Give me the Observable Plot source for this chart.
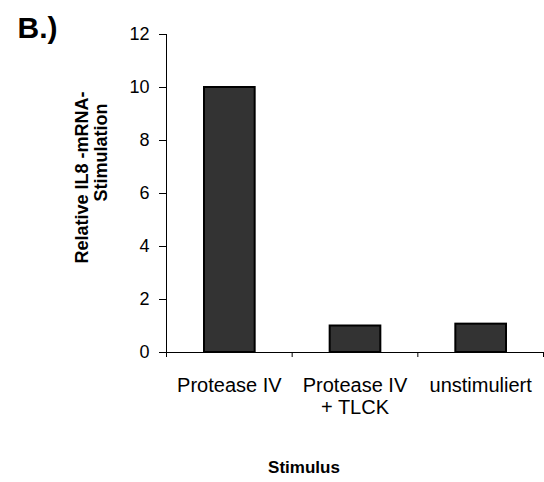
<!DOCTYPE html>
<html><head><meta charset="utf-8">
<script src="https://cdn.jsdelivr.net/npm/d3@7"></script>
<script src="https://cdn.jsdelivr.net/npm/@observablehq/plot@0.6"></script>
<style>body{margin:0;background:#fff} svg{display:block}</style>
</head><body><div id="chart"></div>
<script>
const categories = ["Protease IV", "Protease IV\n+ TLCK", "unstimuliert"];
const values = [10, 1.0, 1.07];
const yTicks = [0, 2, 4, 6, 8, 10, 12];
const panelLabel = "B.)";
const yLabelLine1 = "Relative IL8 -mRNA-";
const yLabelLine2 = "Stimulation";
const xLabel = "Stimulus";

const data = categories.map((c, i) => ({category: c, index: i, value: values[i]}));

const chart = Plot.plot({
  width: 544, height: 482,
  marginLeft: 166, marginRight: 1, marginTop: 34, marginBottom: 130,
  style: {fontFamily: "'Liberation Sans', Arial, sans-serif", fontSize: "18px", color: "black", background: "white", overflow: "visible"},
  x: {type: "linear", domain: [0, categories.length]},
  y: {domain: [0, 12]},
  marks: [
    Plot.rectY(data, {x1: "index", x2: d => d.index + 1, y: "value", insetLeft: 38, insetRight: 37, fill: "#333333", stroke: "black", strokeWidth: 2}),
    Plot.axisY({ticks: yTicks, tickSize: 7, tickPadding: 10, label: null, fontSize: 18}),
    Plot.axisX({ticks: d3.range(categories.length + 1), tickSize: 5, tickFormat: () => "", label: null}),
    Plot.axisX({ticks: data.map(d => d.index + 0.5), tickSize: 0, tickPadding: 24, tickFormat: v => categories[Math.round(v - 0.5)], label: null, lineHeight: 1.1, fontSize: 20}),
    Plot.ruleX([0], {y1: 0, y2: 12, stroke: "black"}),
    Plot.ruleY([0], {x1: 0, x2: categories.length, stroke: "black"}),
    Plot.text([panelLabel], {frameAnchor: "top-left", textAnchor: "start", lineAnchor: "top", dx: -149, dy: -18, fontSize: 30, fontWeight: "bold"}),
    Plot.text([yLabelLine1], {frameAnchor: "left", rotate: -90, textAnchor: "middle", lineAnchor: "middle", dx: -84, dy: -16, fontSize: 18, fontWeight: "bold"}),
    Plot.text([yLabelLine2], {frameAnchor: "left", rotate: -90, textAnchor: "middle", lineAnchor: "middle", dx: -65, dy: -41, fontSize: 18, fontWeight: "bold"}),
    Plot.text([xLabel], {frameAnchor: "bottom", textAnchor: "middle", lineAnchor: "middle", dx: -51, dy: 115, fontSize: 17, fontWeight: "bold"})
  ]
});
document.getElementById("chart").appendChild(chart);
</script>
</body></html>
